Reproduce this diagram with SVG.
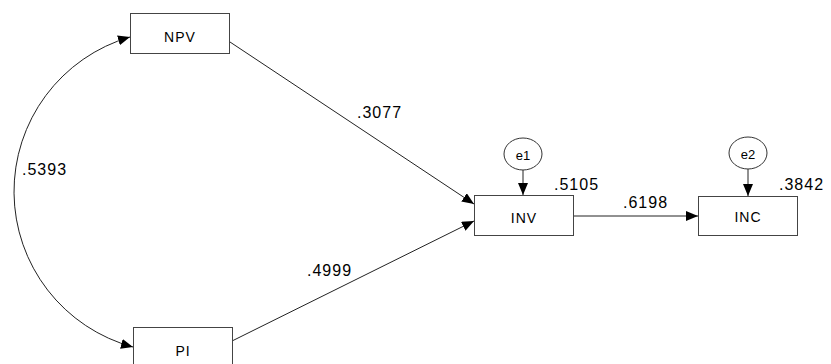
<svg xmlns="http://www.w3.org/2000/svg" width="831" height="364" viewBox="0 0 831 364">
<style>
.box{fill:#fff;stroke:#444;stroke-width:1}
.err{fill:#fff;stroke:#333;stroke-width:1}
.lbl{font-family:"Liberation Sans",Arial,sans-serif;font-size:14px;fill:#000;text-anchor:middle;letter-spacing:1px}
.elbl{font-family:"Liberation Sans",Arial,sans-serif;font-size:13px;fill:#000;text-anchor:middle}
.num{font-family:"Liberation Sans",Arial,sans-serif;font-size:16px;fill:#000;letter-spacing:1px}
.edge{fill:none;stroke:#222;stroke-width:1}
</style>
<defs>
<marker id="ah" viewBox="0 0 12 10" refX="12" refY="5" markerWidth="12" markerHeight="10" markerUnits="userSpaceOnUse" orient="auto-start-reverse">
<path d="M0,0 L12,5 L0,10 Z" fill="#000"/>
</marker>
</defs>
<g id="connectors">
<path class="edge" d="M130,37 A161,161 0 0,0 133,347" marker-start="url(#ah)" marker-end="url(#ah)"/>
<line class="edge" x1="230" y1="42" x2="474" y2="204" marker-end="url(#ah)"/>
<line class="edge" x1="232" y1="341" x2="474" y2="221" marker-end="url(#ah)"/>
<line class="edge" x1="573" y1="216" x2="698" y2="216" marker-end="url(#ah)"/>
<line class="edge" x1="523" y1="170" x2="523" y2="195" marker-end="url(#ah)"/>
<line class="edge" x1="748" y1="169" x2="748" y2="196" marker-end="url(#ah)"/>
<text class="num" x="22" y="175">.5393</text>
<text class="num" x="357" y="118">.3077</text>
<text class="num" x="307" y="276">.4999</text>
<text class="num" x="623" y="208">.6198</text>
</g>
<g id="NPV">
<rect class="box" x="130.5" y="13.5" width="99" height="40"/>
<text class="lbl" x="180" y="42">NPV</text>
</g>
<g id="PI">
<rect class="box" x="133.5" y="327.5" width="99" height="40"/>
<text class="lbl" x="183" y="356">PI</text>
</g>
<g id="INV">
<rect class="box" x="474.5" y="195.5" width="99" height="40"/>
<text class="lbl" x="524" y="223">INV</text>
<text class="num" x="554" y="190">.5105</text>
</g>
<g id="INC">
<rect class="box" x="698.5" y="196.5" width="99" height="39"/>
<text class="lbl" x="748" y="222">INC</text>
<text class="num" x="779" y="190">.3842</text>
</g>
<g id="e1">
<ellipse class="err" cx="523" cy="154" rx="19" ry="16"/>
<text class="elbl" x="523" y="160">e1</text>
</g>
<g id="e2">
<ellipse class="err" cx="748" cy="153" rx="19" ry="16"/>
<text class="elbl" x="748" y="159">e2</text>
</g>
</svg>
